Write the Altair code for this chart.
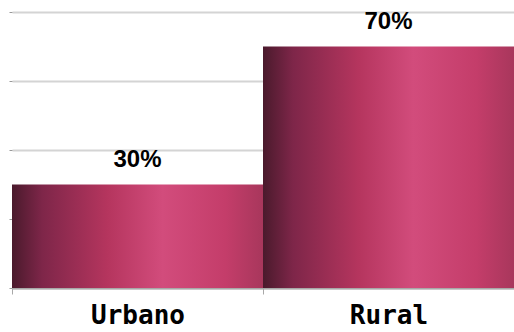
import altair as alt
import pandas as pd

categories = ["Urbano", "Rural"]
values = [30, 70]
labels = ["30%", "70%"]

df = pd.DataFrame({"cat": categories, "val": values, "lab": labels})

grad = alt.Gradient(
    gradient="linear",
    stops=[
        alt.GradientStop(color="#4a1a2c", offset=0),
        alt.GradientStop(color="#7e2649", offset=0.12),
        alt.GradientStop(color="#b5355e", offset=0.38),
        alt.GradientStop(color="#d24c7c", offset=0.6),
        alt.GradientStop(color="#c43d6a", offset=0.85),
        alt.GradientStop(color="#a8375c", offset=1),
    ],
    x1=0, x2=1, y1=0, y2=0,
)

x = alt.X("cat:N", sort=categories, title=None,
          scale=alt.Scale(paddingInner=0, paddingOuter=0),
          axis=alt.Axis(labelAngle=0, labelFont="DejaVu Sans Mono", labelFontWeight="bold",
                        labelFontSize=26, labelColor="#000", labelPadding=8,
                        domainColor="#a8a8a8", domainWidth=2, tickColor="#a8a8a8",
                        tickSize=6, tickBand="extent", grid=False))
y = alt.Y("val:Q", title=None, scale=alt.Scale(domain=[0, 80]),
          axis=alt.Axis(values=[0, 20, 40, 60, 80], labels=False, domain=False,
                        tickSize=3, tickColor="#999", gridColor="#d4d4d4", gridWidth=2))

bars = alt.Chart(df).mark_bar(color=grad).encode(x=x, y=y)
text = alt.Chart(df).mark_text(dy=-18, baseline="alphabetic", font="Liberation Sans",
                               fontWeight="bold", fontSize=24, color="#000").encode(
    x=alt.X("cat:N", sort=categories), y="val:Q", text="lab:N")

chart = (bars + text).properties(
    width=502, height=276,
    autosize=alt.AutoSizeParams(type="none"),
    padding={"left": 12, "top": 12, "right": 0, "bottom": 44},
).configure_view(stroke=None)

chart.save("out.html", embed_options={"renderer": "svg", "actions": False})
